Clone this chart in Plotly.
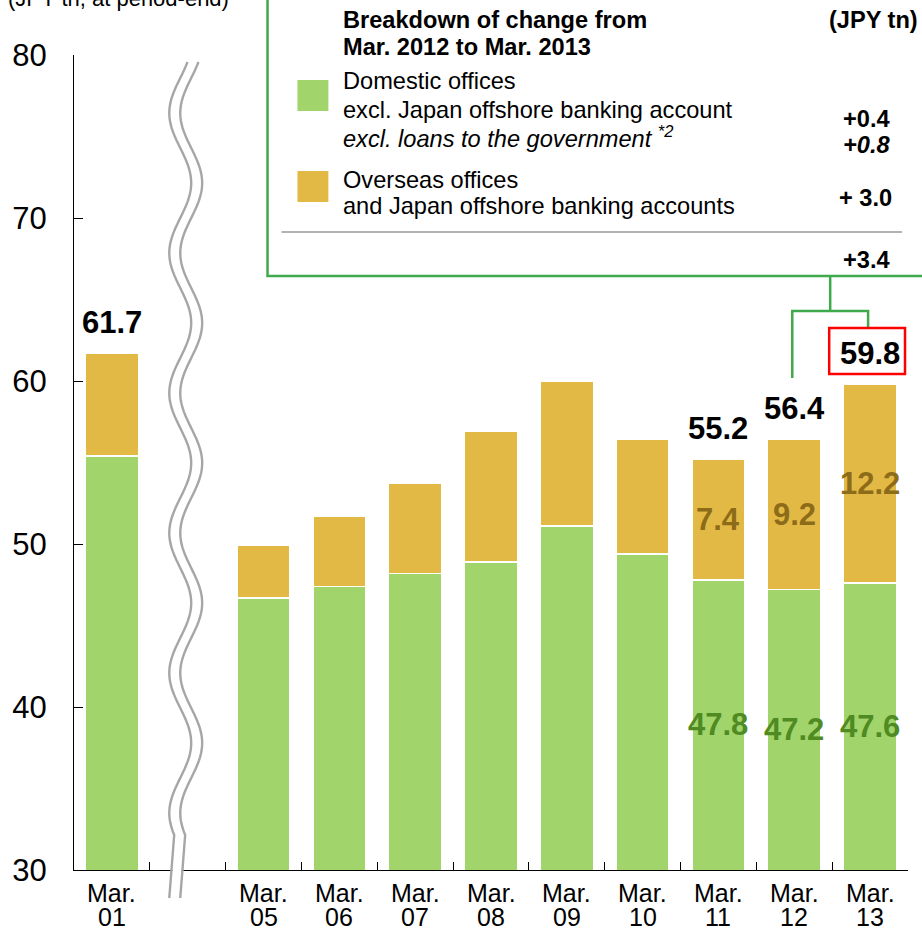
import numpy as np
import plotly.graph_objects as go

# ---------------- data ----------------
period_month = "Mar."
period_year = ["01", "05", "06", "07", "08", "09", "10", "11", "12", "13"]
slot_index = [0, 2, 3, 4, 5, 6, 7, 8, 9, 10]      # slot 1 is the axis break
domestic = [55.4, 46.7, 47.4, 48.2, 48.9, 51.1, 49.4, 47.8, 47.2, 47.6]
overseas = [6.3, 3.2, 4.3, 5.5, 8.0, 8.9, 7.0, 7.4, 9.2, 12.2]
totals = [round(d + o, 1) for d, o in zip(domestic, overseas)]
total_label_idx = [0, 7, 8, 9]
segment_label_idx = [7, 8, 9]
y_ticks = [30, 40, 50, 60, 70, 80]

unit_text = "(JPY tn, at period-end)"
box_title = ["Breakdown of change from", "Mar. 2012 to Mar. 2013"]
box_unit = "(JPY tn)"
dom_lines = ["Domestic offices", "excl. Japan offshore banking account",
             "<i>excl. loans to the government <sup>*2</sup></i>"]
ovs_lines = ["Overseas offices", "and Japan offshore banking accounts"]
change_dom = "+0.4"
change_dom_exgov = "<i>+0.8</i>"
change_ovs = "+ 3.0"
change_total = "+3.4"

GREEN = "#A1D46A"
GOLD = "#E3B946"
DARK_GREEN = "#4F8A22"
DARK_GOLD = "#8C6C18"
FRAME_GREEN = "#3FAA4C"
FONT = "Liberation Sans, Arial, sans-serif"

# ---------------- geometry helpers (pixels -> paper) ----------------
L, R, T, B = 72, 908, 55, 870


def px(x):
    return (x - L) / (R - L)


def py(y):
    return (B - y) / (B - T)


def path(points, close=False):
    s = ""
    for i, (x, y) in enumerate(points):
        s += ("M" if i == 0 else "L") + f"{px(x):.5f},{py(y):.5f} "
    return s + ("Z" if close else "")


fig = go.Figure()
fig.add_trace(go.Bar(x=slot_index, y=domestic, marker=dict(color=GREEN, line=dict(color="white", width=1.5)),
                     hoverinfo="y", name="Domestic"))
fig.add_trace(go.Bar(x=slot_index, y=overseas, marker=dict(color=GOLD, line=dict(color="white", width=1.5)),
                     hoverinfo="y", name="Overseas"))

ann = []
# x labels
for s, yr in zip(slot_index, period_year):
    ann.append(dict(x=s, y=py(893), xref="x", yref="paper", text=period_month, showarrow=False,
                    font=dict(size=25, color="black", family=FONT), xanchor="center", yanchor="middle"))
    ann.append(dict(x=s, y=py(917), xref="x", yref="paper", text=yr, showarrow=False,
                    font=dict(size=25, color="black", family=FONT), xanchor="center", yanchor="middle"))
# totals
for i in total_label_idx:
    ann.append(dict(x=slot_index[i], y=totals[i], xref="x", yref="y", text=f"<b>{totals[i]:.1f}</b>",
                    showarrow=False, yshift=31, font=dict(size=31, color="black", family=FONT),
                    xanchor="center", yanchor="middle"))
# segment labels
for i in segment_label_idx:
    ann.append(dict(x=slot_index[i], y=domestic[i] + overseas[i] / 2, xref="x", yref="y",
                    text=f"<b>{overseas[i]:.1f}</b>", showarrow=False,
                    font=dict(size=31, color=DARK_GOLD, family=FONT), xanchor="center", yanchor="middle"))
    ann.append(dict(x=slot_index[i], y=(y_ticks[0] + domestic[i]) / 2, xref="x", yref="y",
                    text=f"<b>{domestic[i]:.1f}</b>", showarrow=False,
                    font=dict(size=31, color=DARK_GREEN, family=FONT), xanchor="center", yanchor="middle"))


def txt(x, y, text, size=23.6, bold=False, anchor="left", color="black"):
    ann.append(dict(x=px(x), y=py(y), xref="paper", yref="paper",
                    text=f"<b>{text}</b>" if bold else text, showarrow=False,
                    font=dict(size=size, color=color, family=FONT), xanchor=anchor, yanchor="middle"))


txt(4, -1, unit_text, size=22)
txt(340, 20, box_title[0], bold=True)
txt(340, 47, box_title[1], bold=True)
txt(920, 20, box_unit, bold=True, anchor="right")
for yy, t in zip([81, 110, 137], dom_lines):
    txt(340, yy, t)
for yy, t in zip([180, 206], ovs_lines):
    txt(340, yy, t)
txt(892, 119, change_dom, bold=True, anchor="right")
txt(892, 145, change_dom_exgov, bold=True, anchor="right")
txt(894, 198, change_ovs, bold=True, anchor="right")
txt(892, 260, change_total, bold=True, anchor="right")

shapes = []
# legend frame
shapes.append(dict(type="path", xref="paper", yref="paper",
                   path=path([(266, -10), (266, 276), (930, 276)]),
                   line=dict(color=FRAME_GREEN, width=2.5)))
# connector
shapes.append(dict(type="path", xref="paper", yref="paper",
                   path=path([(830, 276), (830, 311)]), line=dict(color=FRAME_GREEN, width=2.5)))
shapes.append(dict(type="path", xref="paper", yref="paper",
                   path=path([(792, 378), (792, 311), (868, 311), (868, 328)]),
                   line=dict(color=FRAME_GREEN, width=2.5)))
# red box
shapes.append(dict(type="rect", xref="paper", yref="paper", x0=px(829), x1=px(905), y0=py(328), y1=py(374),
                   line=dict(color="#FF0000", width=2.5)))
# legend swatches
shapes.append(dict(type="rect", xref="paper", yref="paper", x0=px(296), x1=px(327), y0=py(80), y1=py(111),
                   fillcolor=GREEN, line=dict(width=0)))
shapes.append(dict(type="rect", xref="paper", yref="paper", x0=px(296), x1=px(327), y0=py(171), y1=py(202),
                   fillcolor=GOLD, line=dict(width=0)))
# separator
shapes.append(dict(type="line", xref="paper", yref="paper", x0=px(280), x1=px(902), y0=py(232), y1=py(232),
                   line=dict(color="#999999", width=1.5)))

# axis break (wavy double line)
ys = np.linspace(62, 835, 200)
xs = 184 + 11 * np.cos(2 * np.pi * (ys - 43) / 140)
ys = np.append(ys, 898)
xs = np.append(xs, 173)
shapes.append(dict(type="path", xref="paper", yref="paper", path=path(list(zip(xs, ys))),
                   line=dict(color="white", width=9), layer="above"))
for off in (-5.5, 5.5):
    shapes.append(dict(type="path", xref="paper", yref="paper", path=path(list(zip(xs + off, ys))),
                       line=dict(color="#A6A6A6", width=2.4), layer="above"))

fig.update_layout(
    width=922, height=928,
    margin=dict(l=L, r=922 - R, t=T, b=928 - B),
    paper_bgcolor="white", plot_bgcolor="white",
    barmode="stack", bargap=0.3, showlegend=False,
    font=dict(family=FONT, color="black"),
    annotations=ann, shapes=shapes,
    xaxis=dict(range=[-0.5, 10.5], tickvals=[k + 0.5 for k in range(11)], showticklabels=False,
               ticks="inside", ticklen=8, tickcolor="black", showgrid=False, zeroline=False,
               showline=True, linecolor="black", linewidth=1),
    yaxis=dict(range=[30, 80], tickvals=y_ticks, ticks="inside", ticklen=9, tickcolor="black",
               tickfont=dict(size=31, family=FONT, color="black"), ticklabelstandoff=20,
               showgrid=False, zeroline=False, showline=True, linecolor="black", linewidth=1),
)

fig.write_html("out.html", include_plotlyjs=True, config={"displayModeBar": False},
               post_script="document.body.style.margin='0';document.body.style.overflow='hidden';")
